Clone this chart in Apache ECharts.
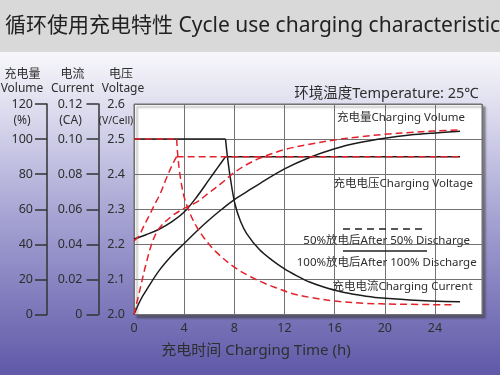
<!DOCTYPE html>
<html><head><meta charset="utf-8">
<script src="https://cdn.jsdelivr.net/npm/echarts@6/dist/echarts.min.js"></script>
<style>html,body{margin:0;padding:0;background:#fff;}#c{width:500px;height:375px;}</style>
</head><body><div id="c"></div>
<script>
// ---- data (hours / values) ----
const xTickLabels = [0, 4, 8, 12, 16, 20, 24];
const volumeTicks = [0, 20, 40, 60, 80, 100, 120];
const currentTicks = [0, 0.02, 0.04, 0.06, 0.08, 0.10, 0.12];
const voltageTicks = [2.0, 2.1, 2.2, 2.3, 2.4, 2.5, 2.6];

// Charging volume (%)
const volSolidH = [0, 0.5, 1, 2, 3, 4, 5, 6, 7, 8, 9, 10, 12, 14, 16, 18, 20, 22, 24, 26];
const volSolid  = [0, 8, 14, 25, 33.5, 40.5, 47.5, 54, 60, 65.5, 70, 74.5, 83, 89.5, 94.5, 98, 100.5, 102.3, 103.5, 104.5];
const volDashH  = [0, 0.5, 1, 1.5, 2, 3, 4, 5, 6, 7, 8, 9, 10, 12, 14, 16, 18, 20, 22, 24, 26];
const volDash   = [0, 15, 30, 42, 49, 56, 60.5, 64, 69.5, 75, 81, 85.5, 89, 94, 97, 99.5, 101.3, 102.7, 103.8, 104.6, 105.2];

// Charging current (CA): first two points = constant-current stage
const curSolidH = [0, 7.3, 7.45, 7.7, 8.05, 8.5, 9, 10, 11, 12, 13, 14, 15, 16.5, 18, 19.5, 22, 26];
const curSolid  = [0.1, 0.1, 0.09, 0.077, 0.063, 0.053, 0.046, 0.037, 0.031, 0.026, 0.022, 0.0185, 0.016, 0.013, 0.011, 0.0095, 0.0083, 0.0072];
const curDashH  = [0, 3.4, 3.5, 3.7, 4, 4.5, 5, 5.6, 6.5, 8, 9.3, 10.5, 11.5, 12.5, 14, 16.4, 18.4, 21, 25.6];
const curDash   = [0.1, 0.1, 0.09, 0.078, 0.067, 0.057, 0.05, 0.0435, 0.036, 0.027, 0.0215, 0.0175, 0.0148, 0.0122, 0.0098, 0.0074, 0.0064, 0.0059, 0.0055];

// Charging voltage (V/Cell): last two points = constant-voltage stage
const voltSolidH = [0, 1, 2, 3, 4, 5, 6, 6.7, 7.3, 26];
const voltSolid  = [2.215, 2.228, 2.243, 2.264, 2.292, 2.335, 2.385, 2.42, 2.45, 2.45];
const voltDashH  = [0, 0.4, 0.75, 1.3, 1.55, 2.1, 2.6, 3.1, 3.4, 26];
const voltDash   = [2.21, 2.224, 2.25, 2.288, 2.307, 2.345, 2.39, 2.43, 2.45, 2.45];

const FONT = "'Noto Sans','Noto Sans CJK SC',sans-serif";
const TXT = '#2e2e2e';
const RED = '#e3222c';
const BLK = '#1c1c1c';
const pairs = (h, v) => h.map((x, i) => [x, v[i]]);

const chart = echarts.init(document.getElementById('c'), null, {renderer: 'canvas'});

function lineSeries(data, yIdx, color, dashed, z, smooth) {
  return {
    type: 'line', xAxisIndex: 0, yAxisIndex: yIdx,
    data: data, symbol: 'none', smooth: smooth,
    z: z, silent: true,
    lineStyle: {color: color, width: 1.5, type: dashed ? [7, 4] : 'solid'}
  };
}
// split helpers: straight part vs curved part
function curveWithFlatStart(h, v, yIdx, color, dashed, z) {
  const p = pairs(h, v);
  return [lineSeries(p.slice(0, 2), yIdx, color, dashed, z, false),
          lineSeries(p.slice(1), yIdx, color, dashed, z, 0.35)];
}
function curveWithFlatEnd(h, v, yIdx, color, dashed, z) {
  const p = pairs(h, v);
  return [lineSeries(p.slice(0, p.length - 1), yIdx, color, dashed, z, 0.35),
          lineSeries(p.slice(p.length - 2), yIdx, color, dashed, z, false)];
}

function t(text, x, y, size, align, fill) {
  return {
    type: 'text', x: x, y: y, z: 100,
    style: {text: text, fill: fill || TXT, font: size + 'px ' + FONT, textAlign: align || 'center', textVerticalAlign: 'middle'}
  };
}

const option = {
  animation: false,
  backgroundColor: {
    type: 'linear', x: 0, y: 0, x2: 0, y2: 1,
    colorStops: [
      {offset: 0, color: '#d9d9d9'}, {offset: 0.138, color: '#d9d9d9'},
      {offset: 0.14, color: '#f7f7fa'}, {offset: 0.3, color: '#dcdbee'},
      {offset: 0.6, color: '#a29fd1'}, {offset: 1, color: '#5f59a8'}
    ]
  },
  grid: {
    left: 134, top: 104, right: 18, bottom: 60.5, show: true,
    backgroundColor: '#ffffff', borderColor: '#6a6a6a', borderWidth: 1,
    shadowColor: 'rgba(60,60,60,0.55)', shadowBlur: 2, shadowOffsetX: 3, shadowOffsetY: 3
  },
  xAxis: {
    type: 'value', min: 0, max: 27.75, interval: 4,
    axisLine: {show: false}, axisTick: {show: false},
    axisLabel: {
      margin: 8, color: TXT, fontSize: 12.5, fontFamily: FONT,
      formatter: v => (xTickLabels.indexOf(v) >= 0 ? String(v) : '')
    },
    splitLine: {show: true, lineStyle: {color: '#727272', width: 1}}
  },
  yAxis: [
    {
      type: 'value', position: 'left', offset: 0, min: voltageTicks[0], max: voltageTicks[6], interval: 0.1,
      axisLine: {show: false}, axisTick: {show: false},
      axisLabel: {margin: 9, color: TXT, fontSize: 12.5, fontFamily: FONT, formatter: v => v.toFixed(1)},
      splitLine: {show: true, lineStyle: {color: '#727272', width: 1}}
    },
    {
      type: 'value', position: 'left', offset: 35.5, min: currentTicks[0], max: currentTicks[6], interval: 0.02,
      axisLine: {show: true, lineStyle: {color: '#333', width: 1.5}},
      axisTick: {show: true, length: 12, lineStyle: {color: '#333', width: 1.5}},
      axisLabel: {margin: 16, color: TXT, fontSize: 12.5, fontFamily: FONT, formatter: v => (v === 0 ? '0' : v.toFixed(2))},
      splitLine: {show: false}
    },
    {
      type: 'value', position: 'left', offset: 87, min: volumeTicks[0], max: volumeTicks[6], interval: 20,
      axisLine: {show: true, lineStyle: {color: '#333', width: 1.5}},
      axisTick: {show: true, length: 12, lineStyle: {color: '#333', width: 1.5}},
      axisLabel: {margin: 14, color: TXT, fontSize: 12.5, fontFamily: FONT},
      splitLine: {show: false}
    }
  ],
  series: [].concat(
    [lineSeries(pairs(volSolidH, volSolid), 2, BLK, false, 3, 0.35)],
    curveWithFlatStart(curSolidH, curSolid, 1, BLK, false, 3),
    curveWithFlatEnd(voltSolidH, voltSolid, 0, BLK, false, 3),
    [lineSeries(pairs(volDashH, volDash), 2, RED, true, 4, 0.35)],
    curveWithFlatStart(curDashH, curDash, 1, RED, true, 4),
    curveWithFlatEnd(voltDashH, voltDash, 0, RED, true, 4)
  ),
  graphic: [
    t('循环使用充电特性 Cycle use charging characteristics', 5, 26, 21, 'left', '#222'),
    t('充电量', 22.5, 75, 12),
    t('Volume', 22, 88.5, 12),
    t('电流', 72.5, 75, 12),
    t('Current', 72.5, 88.5, 12),
    t('电压', 121, 75, 12),
    t('Voltage', 123, 88.5, 12),
    t('(%)', 22, 121, 12),
    t('(CA)', 70.5, 121, 12),
    t('(V/Cell)', 116, 121, 10.5),
    t('环境温度Temperature: 25℃', 386.5, 93.5, 14.5),
    t('充电量Charging Volume', 401, 117.5, 11.5),
    t('充电电压Charging Voltage', 403.3, 183.5, 11.5),
    {type: 'line', z: 100, shape: {x1: 343, y1: 229, x2: 427, y2: 229}, style: {stroke: '#222', lineWidth: 1.5, lineDash: [7, 5]}},
    t('50%放电后After 50% Discharge', 386.7, 241, 11.5),
    {type: 'line', z: 100, shape: {x1: 343, y1: 251, x2: 427, y2: 251}, style: {stroke: '#222', lineWidth: 1.5}},
    t('100%放电后After 100% Discharge', 386.7, 262.5, 11.5),
    t('充电电流Charging Current', 402.5, 286.5, 11.5),
    t('充电时间 Charging Time (h)', 256, 351, 15)
  ]
};
chart.setOption(option);
</script>
</body></html>
